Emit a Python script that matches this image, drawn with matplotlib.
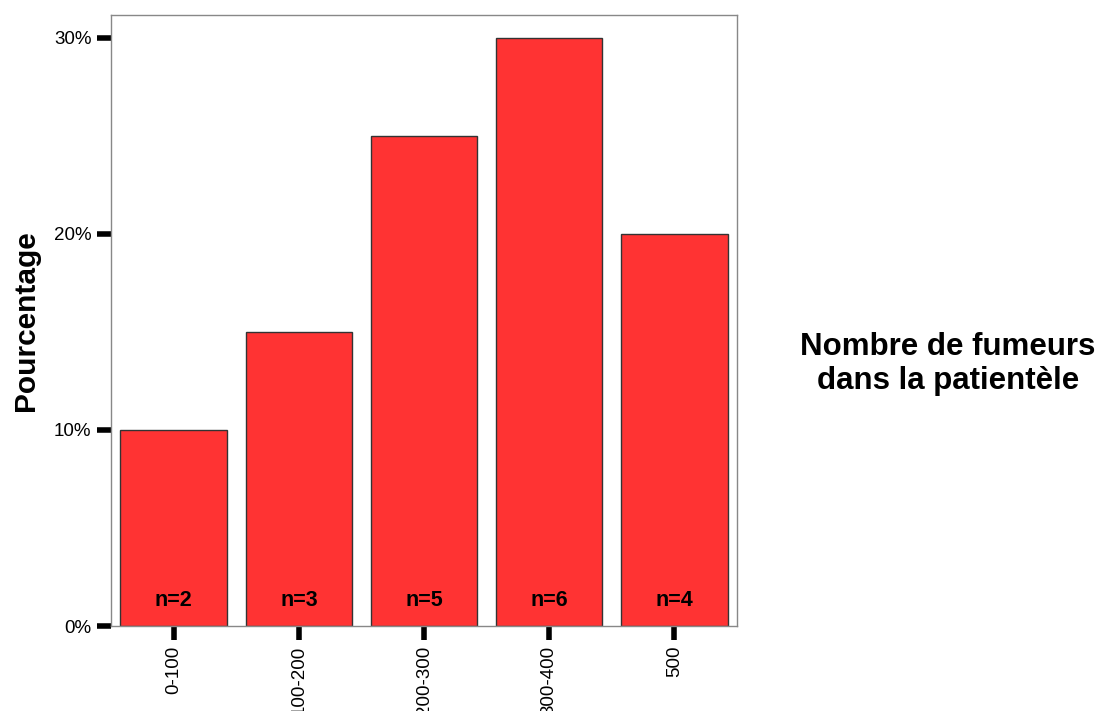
import matplotlib

matplotlib.use("Agg")

import matplotlib.pyplot as plt
from matplotlib.ticker import FuncFormatter

plt.rcParams["font.family"] = ["Liberation Sans", "DejaVu Sans"]

categories = ["0-100", "100-200", "200-300", "300-400", "500"]
percentages = [10, 15, 25, 30, 20]
counts = [2, 3, 5, 6, 4]

BAR_COLOR = "#FF3333"

fig = plt.figure(figsize=(11.05, 7.11), dpi=100)
ax = fig.add_axes([0.1005, 0.1195, 0.5665, 0.8595])

x = range(len(categories))
ax.bar(x, percentages, width=0.85, color=BAR_COLOR, edgecolor="#333333", linewidth=1.0, zorder=2)
for xi, n in zip(x, counts):
    ax.text(xi, 1.3, f"n={n}", ha="center", va="center", fontsize=15.5, fontweight="bold")

ax.set_xlim(-0.5, len(categories) - 0.5)
ax.set_ylim(0, 31.17)
ax.set_yticks([0, 10, 20, 30])
ax.yaxis.set_major_formatter(FuncFormatter(lambda v, _: f"{v:.0f}%"))
ax.set_xticks(list(x))
ax.set_xticklabels(categories, rotation=90)
ax.tick_params(axis="both", length=10, width=4, color="black", labelsize=13.5, pad=4)

for spine in ax.spines.values():
    spine.set_color("#888888")
    spine.set_linewidth(1.0)

ax.set_ylabel("Pourcentage", fontsize=21.5, fontweight="bold", labelpad=10)

# the reference leaves the longer rotated labels clipped at the bottom edge
fig.text(0.858, 0.488, "Nombre de fumeurs\ndans la patientèle", ha="center", va="center",
         fontsize=22.5, fontweight="bold", linespacing=1.15)

fig.savefig("out.png", dpi=100)
plt.close(fig)
